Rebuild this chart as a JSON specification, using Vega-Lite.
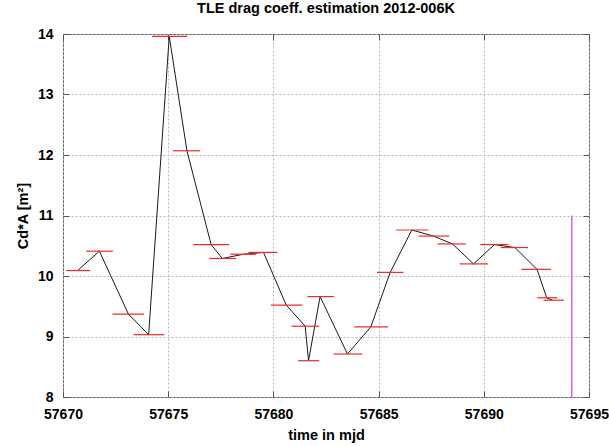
{
  "$schema": "https://vega.github.io/schema/vega-lite/v6.json",
  "width": 526,
  "height": 363,
  "autosize": {"type": "none"},
  "padding": {"left": 63, "top": 34, "right": 20, "bottom": 49},
  "background": "white",
  "title": {
    "text": "TLE drag coeff. estimation 2012-006K",
    "font": "Liberation Sans",
    "fontSize": 14.5,
    "fontWeight": "bold",
    "color": "#000000",
    "anchor": "middle",
    "frame": "group",
    "baseline": "alphabetic",
    "offset": 0
  },
  "config": {
    "view": {"stroke": "#555555", "strokeWidth": 1},
    "font": "Liberation Sans"
  },
  "datasets": {
    "estimates": [
      {"mjd": 57670.69, "lo": 57670.15, "hi": 57671.29, "cda": 10.09},
      {"mjd": 57671.73, "lo": 57671.10, "hi": 57672.37, "cda": 10.41},
      {"mjd": 57673.11, "lo": 57672.35, "hi": 57673.86, "cda": 9.37},
      {"mjd": 57674.07, "lo": 57673.35, "hi": 57674.81, "cda": 9.03},
      {"mjd": 57675.05, "lo": 57674.23, "hi": 57675.90, "cda": 13.96},
      {"mjd": 57675.89, "lo": 57675.22, "hi": 57676.52, "cda": 12.07},
      {"mjd": 57677.04, "lo": 57676.20, "hi": 57677.90, "cda": 10.52},
      {"mjd": 57677.57, "lo": 57676.95, "hi": 57678.22, "cda": 10.29},
      {"mjd": 57678.58, "lo": 57677.95, "hi": 57679.18, "cda": 10.36},
      {"mjd": 57679.53, "lo": 57678.82, "hi": 57680.19, "cda": 10.39},
      {"mjd": 57680.61, "lo": 57679.88, "hi": 57681.37, "cda": 9.52},
      {"mjd": 57681.51, "lo": 57680.86, "hi": 57682.18, "cda": 9.17},
      {"mjd": 57681.67, "lo": 57681.18, "hi": 57682.18, "cda": 8.60},
      {"mjd": 57682.22, "lo": 57681.62, "hi": 57682.88, "cda": 9.66},
      {"mjd": 57683.52, "lo": 57682.86, "hi": 57684.22, "cda": 8.71},
      {"mjd": 57684.63, "lo": 57683.85, "hi": 57685.45, "cda": 9.16},
      {"mjd": 57685.55, "lo": 57684.92, "hi": 57686.18, "cda": 10.06},
      {"mjd": 57686.58, "lo": 57685.84, "hi": 57687.37, "cda": 10.76},
      {"mjd": 57687.61, "lo": 57686.90, "hi": 57688.36, "cda": 10.66},
      {"mjd": 57688.51, "lo": 57687.80, "hi": 57689.15, "cda": 10.53},
      {"mjd": 57689.51, "lo": 57688.85, "hi": 57690.20, "cda": 10.20},
      {"mjd": 57690.51, "lo": 57689.83, "hi": 57691.17, "cda": 10.52},
      {"mjd": 57691.48, "lo": 57690.81, "hi": 57692.10, "cda": 10.47},
      {"mjd": 57692.53, "lo": 57691.79, "hi": 57693.19, "cda": 10.11},
      {"mjd": 57692.99, "lo": 57692.54, "hi": 57693.50, "cda": 9.64},
      {"mjd": 57693.26, "lo": 57692.84, "hi": 57693.81, "cda": 9.60}
    ],
    "marker": [
      {"mjd": 57694.18, "low": 8, "high": 11}
    ]
  },
  "resolve": {"axis": {"x": "independent", "y": "independent"}},
  "layer": [
    {
      "data": {"name": "estimates"},
      "mark": {"type": "line", "color": "#1a1a1a", "strokeWidth": 1},
      "encoding": {
        "x": {
          "field": "mjd",
          "type": "quantitative",
          "scale": {"domain": [57670, 57695], "nice": false, "zero": false},
          "axis": {
            "orient": "bottom",
            "values": [57670, 57675, 57680, 57685, 57690, 57695],
            "format": "d",
            "title": "time in mjd",
            "titleFont": "Liberation Sans",
            "titleFontSize": 14.5,
            "titleFontWeight": "bold",
            "titleColor": "#000000",
            "titleBaseline": "alphabetic",
            "titleAnchor": "middle",
            "titleY": 42,
            "labelFont": "Liberation Sans",
            "labelFontSize": 14,
            "labelFontWeight": "bold",
            "labelColor": "#000000",
            "labelBaseline": "alphabetic",
            "labelPadding": 27,
            "labelFlush": false,
            "labelOverlap": false,
            "domain": false,
            "ticks": true,
            "tickSize": -6,
            "tickColor": "#555555",
            "tickWidth": 1,
            "grid": true,
            "gridColor": "#b8b8b8",
            "gridDash": [2, 2],
            "gridWidth": 1
          }
        },
        "y": {
          "field": "cda",
          "type": "quantitative",
          "scale": {"domain": [8, 14], "nice": false, "zero": false},
          "axis": {
            "orient": "left",
            "values": [8, 9, 10, 11, 12, 13, 14],
            "title": "Cd*A [m²]",
            "titleFont": "Liberation Sans",
            "titleFontSize": 14.5,
            "titleFontWeight": "bold",
            "titleColor": "#000000",
            "titleAngle": -90,
            "titleAlign": "center",
            "titleBaseline": "middle",
            "titleX": -40,
            "titleY": 181.5,
            "labelFont": "Liberation Sans",
            "labelFontSize": 14,
            "labelFontWeight": "bold",
            "labelColor": "#000000",
            "labelPadding": 16,
            "labelFlush": false,
            "labelOverlap": false,
            "domain": false,
            "ticks": true,
            "tickSize": -6,
            "tickColor": "#555555",
            "tickWidth": 1,
            "grid": true,
            "gridColor": "#b8b8b8",
            "gridDash": [2, 2],
            "gridWidth": 1
          }
        },
        "order": {"field": "mjd", "type": "quantitative"}
      }
    },
    {
      "data": {"name": "estimates"},
      "mark": {"type": "rule", "color": "#f02a2a", "strokeWidth": 1.2},
      "encoding": {
        "x": {
          "field": "lo",
          "type": "quantitative",
          "axis": {
            "orient": "top",
            "values": [57670, 57675, 57680, 57685, 57690, 57695],
            "labels": false,
            "title": null,
            "domain": false,
            "grid": false,
            "ticks": true,
            "tickSize": -6,
            "tickColor": "#555555",
            "tickWidth": 1
          }
        },
        "x2": {"field": "hi"},
        "y": {
          "field": "cda",
          "type": "quantitative",
          "axis": {
            "orient": "right",
            "values": [8, 9, 10, 11, 12, 13, 14],
            "labels": false,
            "title": null,
            "domain": false,
            "grid": false,
            "ticks": true,
            "tickSize": -6,
            "tickColor": "#555555",
            "tickWidth": 1
          }
        }
      }
    },
    {
      "data": {"name": "marker"},
      "mark": {"type": "rule", "color": "#e060e8", "strokeWidth": 1.5},
      "encoding": {
        "x": {"field": "mjd", "type": "quantitative", "axis": null},
        "y": {"field": "low", "type": "quantitative", "axis": null},
        "y2": {"field": "high"}
      }
    }
  ]
}
